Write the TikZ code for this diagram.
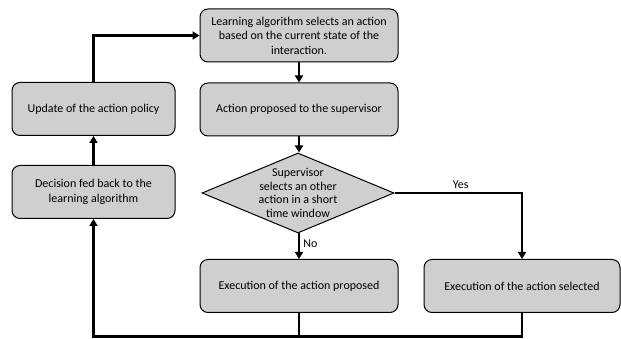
\documentclass[tikz,border=0pt]{standalone}
\usepackage{fontspec}
\setmainfont{Carlito}
\usetikzlibrary{arrows.meta,shapes.geometric}
\definecolor{boxgray}{RGB}{208,206,206}
\tikzset{
  every node/.style={font=\fontsize{12}{14.5}\selectfont},
  stepbox/.style={draw,line width=1pt,rounded corners=8pt,fill=boxgray,minimum width=198pt,minimum height=53pt,align=center,inner sep=2pt},
  choice/.style={draw,line width=1pt,fill=boxgray,diamond,aspect=2.4,inner sep=0pt,minimum width=192pt,minimum height=80pt},
  flow/.style={line width=2.2pt,-{Triangle[width=8pt,length=7pt]}},
  link/.style={line width=2.2pt}
}
\begin{document}
\begin{tikzpicture}[x=1pt,y=1pt]
\useasboundingbox(0,0)rectangle(621,339);
\node[stepbox](learn)at(299,303.5){Learning algorithm selects an action\\based on the current state of the\\interaction.};
\node[stepbox](propose)at(299,229.5){Action proposed to the supervisor};
\node[choice](decide)at(298,146){};
\node[align=center,font=\fontsize{12}{13.5}\selectfont](decidetext)at(decide.center){Supervisor\\selects an other\\action in a short\\time window};
\node[stepbox](execprop)at(299,53){Execution of the action proposed};
\node[stepbox,minimum width=196pt](execsel)at(522,53){Execution of the action selected};
\node[stepbox,minimum width=163pt](update)at(93.5,230){Update of the action policy};
\node[stepbox,minimum width=163pt](feedback)at(93.5,147){Decision fed back to the\\learning algorithm};
\coordinate(loop)at(93.5,2.5);
% main chain
\draw[flow](learn)--(propose);
\draw[flow](propose)--(decide.north-|propose);
\draw[flow](decide.south-|execprop)--node[right,pos=0.4]{No}(execprop);
\draw[flow](decide.east)-|node[above,pos=0.26]{Yes}(execsel.north);
% feedback loop
\draw[link](execprop.south)--(execprop.south|-loop);
\draw[flow](execsel.south)|-(loop)--(feedback.south);
\draw[flow](feedback)--(update);
\draw[flow](update.north)|-(learn.west);
\end{tikzpicture}
\end{document}
